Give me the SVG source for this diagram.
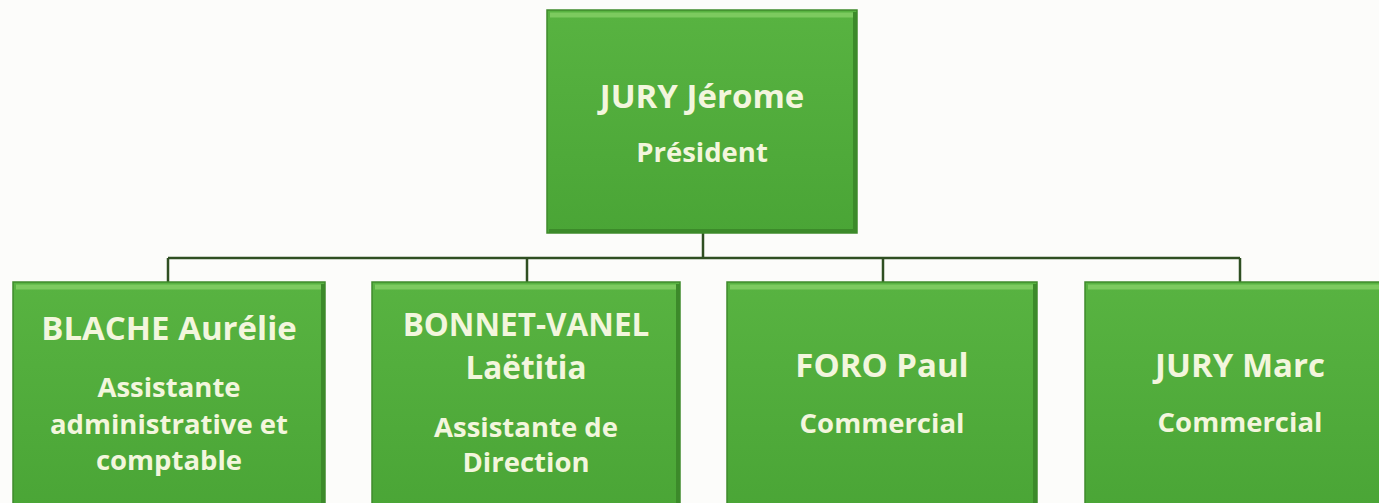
<svg xmlns="http://www.w3.org/2000/svg" width="1379" height="503" viewBox="0 0 1379 503">
<defs>
<linearGradient id="g" x1="0" y1="0" x2="0" y2="1">
<stop offset="0" stop-color="#58b341"/>
<stop offset="1" stop-color="#4aa536"/>
</linearGradient>
<style>
.box{fill:url(#g);stroke:#3f8a2c;stroke-width:1.5}
.bev{fill:none;stroke:#86cf66;stroke-width:5;opacity:0.8}
.shd{fill:none;stroke:#3c8a2a;stroke-width:4}
.t{font-family:"Open Sans","Liberation Sans",sans-serif;font-weight:bold;fill:#f3f6dd;text-anchor:middle}
.n{font-size:33px}
.n2{font-size:31.5px}
.r{font-size:27.5px}
.c{fill:none;stroke:#2f4f22;stroke-width:2.5}
</style>
</defs>
<rect width="1379" height="503" fill="#fcfcfa"/>
<g id="connectors">
<path class="c" d="M703 233 V258 M168 258 H1240 M168 258 V282 M527 258 V282 M883 258 V282 M1240 258 V282"/>
</g>
<g id="node-jury-jerome">
<rect class="box" x="547" y="10" width="310" height="223"/>
<path class="bev" d="M550 15 H853"/>
<path class="shd" d="M855 12 V231 H549"/>
<text class="t n" x="702" y="108">JURY Jérome</text>
<text class="t r" x="702" y="162">Président</text>
</g>
<g id="node-blache">
<rect class="box" x="13" y="282" width="312" height="230"/>
<path class="bev" d="M16 287 H321"/>
<path class="shd" d="M323 284 V512"/>
<text class="t n" x="169" y="340">BLACHE Aurélie</text>
<text class="t r" x="169" y="397">Assistante</text>
<text class="t r" x="169" y="434">administrative et</text>
<text class="t r" x="169" y="470">comptable</text>
</g>
<g id="node-bonnet">
<rect class="box" x="372" y="282" width="308" height="230"/>
<path class="bev" d="M375 287 H676"/>
<path class="shd" d="M678 284 V512"/>
<text class="t n2" x="526" y="336">BONNET-VANEL</text>
<text class="t n2" x="526" y="379">Laëtitia</text>
<text class="t r" x="526" y="437">Assistante de</text>
<text class="t r" x="526" y="472">Direction</text>
</g>
<g id="node-foro">
<rect class="box" x="727" y="282" width="310" height="230"/>
<path class="bev" d="M730 287 H1033"/>
<path class="shd" d="M1035 284 V512"/>
<text class="t n" x="882" y="377">FORO Paul</text>
<text class="t r" x="882" y="433">Commercial</text>
</g>
<g id="node-jury-marc">
<rect class="box" x="1085" y="282" width="310" height="230"/>
<path class="bev" d="M1088 287 H1395"/>
<text class="t n" x="1240" y="377">JURY Marc</text>
<text class="t r" x="1240" y="432">Commercial</text>
</g>
</svg>
